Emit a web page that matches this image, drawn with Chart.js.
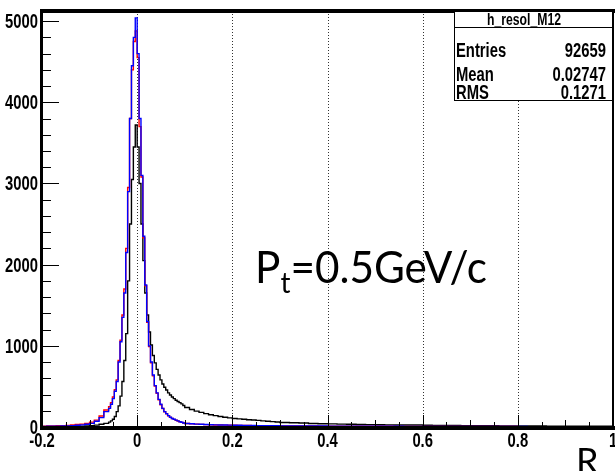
<!DOCTYPE html>
<html>
<head>
<meta charset="utf-8">
<script src="https://cdn.jsdelivr.net/npm/chart.js@4.4.1/dist/chart.umd.min.js"></script>
<style>
html, body { margin: 0; padding: 0; background: #fff; }
#wrap { width: 615px; height: 471px; }
</style>
</head>
<body>
<div id="wrap"><canvas id="myChart" width="615" height="471"></canvas></div>
<script>
// bin layout: [from, to, width]
const binRanges = [[-0.2, -0.06, 0.01], [-0.06, 0.1, 0.004], [0.1, 0.3, 0.01], [0.3, 1.0, 0.02]];

const xTicks = [-0.2, 0, 0.2, 0.4, 0.6, 0.8, 1];
const yTicks = [0, 1000, 2000, 3000, 4000, 5000];

// counts per bin
const redCounts = [
    10, 10, 12, 13, 15, 17, 20, 24, 30, 36, 45, 60, 85, 135,
    210, 250, 300, 370, 460, 580, 820, 1070, 1380, 1700, 2200, 2950, 3800, 4400, 4750, 4880,
    4550, 3700, 3080, 2330, 1740, 1290, 990, 790, 630, 505, 415, 335, 275, 228, 188, 162,
    138, 118, 104, 94, 84, 74, 64, 57,
    49, 43, 39, 35, 32, 29, 27, 25, 24, 23, 22, 21, 20, 19, 18, 17, 16, 15, 15, 14,
    14, 14, 13, 12, 12, 11, 11, 10, 10, 10, 9, 9, 9, 8, 8, 8, 8, 7, 7, 7,
    7, 6, 6, 6, 6, 6, 5, 5, 5, 5, 5, 5, 4, 4, 4
];
const blueCounts = [
    8, 8, 9, 10, 11, 12, 14, 17, 21, 26, 33, 45, 70, 115,
    190, 230, 280, 350, 440, 560, 800, 1050, 1350, 1650, 2150, 2900, 3800, 4450, 4800, 5040,
    4600, 3800, 3100, 2350, 1750, 1300, 1000, 800, 640, 510, 420, 340, 280, 230, 190, 165,
    140, 120, 105, 95, 85, 75, 65, 58,
    50, 44, 40, 36, 33, 30, 28, 26, 25, 24, 23, 22, 21, 20, 19, 18, 17, 16, 16, 15,
    15, 14, 13, 13, 12, 12, 11, 11, 10, 10, 10, 9, 9, 9, 8, 8, 8, 8, 7, 7,
    7, 7, 6, 6, 6, 6, 6, 5, 5, 5, 5, 5, 5, 4, 4
];
const blackCounts = [
    4, 4, 5, 5, 6, 6, 7, 8, 9, 11, 13, 17, 23, 33,
    45, 60, 75, 95, 130, 190, 260, 380, 560, 820, 1150, 1800, 2500, 3050, 3450, 3720,
    3450, 3000, 2500, 2050, 1650, 1380, 1170, 1010, 880, 790, 710, 640, 580, 530, 490, 455,
    420, 395, 370, 350, 330, 315, 300, 285,
    265, 240, 215, 195, 180, 165, 150, 140, 130, 120, 112, 105, 100, 95, 90, 86, 82, 76, 70, 66,
    62, 56, 52, 50, 44, 40, 38, 35, 33, 30, 29, 28, 26, 25, 24, 24, 22, 20, 19, 18,
    17, 16, 15, 15, 14, 13, 13, 12, 12, 11, 11, 10, 10, 9, 9
];

const statsTitle = "h_resol_M12";
const statsRows = [["Entries", "92659"], ["Mean", "0.02747"], ["RMS", "0.1271"]];

const narrow = "'Liberation Sans', Arial, sans-serif";
const squeeze = 0.74;

let binEdges = [];
binRanges.forEach((r) => {
    const n = Math.round((r[1] - r[0]) / r[2]);
    for (let i = 0; i < n; i++) {
        binEdges.push(Math.round((r[0] + i * r[2]) * 10000) / 10000);
    }
});
binEdges.push(1.0);

const toSteps = (counts) => {
    let pts = counts.map((c, i) => ({ x: binEdges[i], y: c }));
    pts.push({ x: binEdges[binEdges.length - 1], y: counts[counts.length - 1] });
    return pts;
};

const histDataset = (counts, color) => ({
    data: toSteps(counts),
    borderColor: color,
    borderWidth: 1.4,
    stepped: "after",
    pointRadius: 0,
    fill: false,
    tension: 0,
});

// condensed bold text, like ROOT's helvetica labels
const narrowText = (ctx, text, x, y, size, align) => {
    ctx.save();
    ctx.font = "bold " + size + "px " + narrow;
    const w = ctx.measureText(text).width * squeeze;
    let x0 = x;
    if (align === "right") x0 = x - w;
    if (align === "center") x0 = x - w / 2;
    ctx.translate(x0, y);
    ctx.scale(squeeze, 1);
    ctx.textAlign = "left";
    ctx.textBaseline = "alphabetic";
    ctx.fillText(text, 0, 0);
    ctx.restore();
};

const tickText = (v) => (Math.abs(v) < 1e-9 ? "0" : String(+v.toFixed(1)));

const rootFrame = {
    id: "rootFrame",
    beforeDatasetsDraw(chart) {
        const ctx = chart.ctx;
        const a = chart.chartArea;
        const xs = chart.scales.x;
        ctx.save();
        ctx.strokeStyle = "#333";
        ctx.lineWidth = 1;
        ctx.setLineDash([1, 2]);
        [0, 0.2, 0.4, 0.6, 0.8].forEach((v) => {
            const px = Math.round(xs.getPixelForValue(v)) + 0.5;
            ctx.beginPath();
            ctx.moveTo(px, a.top);
            ctx.lineTo(px, a.bottom);
            ctx.stroke();
        });
        ctx.restore();
    },
    afterDatasetsDraw(chart) {
        const ctx = chart.ctx;
        const a = chart.chartArea;
        const xs = chart.scales.x;
        const ys = chart.scales.y;
        ctx.save();
        ctx.strokeStyle = "#000";
        ctx.fillStyle = "#000";
        ctx.lineWidth = 1;

        // y ticks
        for (let v = 0; v <= 5000; v += 200) {
            const py = Math.round(ys.getPixelForValue(v)) + 0.5;
            const len = v % 1000 === 0 ? 17 : 9;
            ctx.beginPath();
            ctx.moveTo(a.left, py);
            ctx.lineTo(a.left + len, py);
            ctx.stroke();
        }
        // x ticks
        for (let k = 0; k <= 24; k++) {
            const v = -0.2 + k * 0.05;
            const px = Math.round(xs.getPixelForValue(v)) + 0.5;
            const len = k % 4 === 0 ? 12 : (k % 2 === 0 ? 7 : 5);
            ctx.beginPath();
            ctx.moveTo(px, a.bottom);
            ctx.lineTo(px, a.bottom - len);
            ctx.stroke();
        }

        // tick labels from the scales' own ticks
        ys.ticks.forEach((t) => {
            narrowText(ctx, String(t.value), a.left - 4, ys.getPixelForValue(t.value) + 7, 20, "right");
        });
        xs.ticks.forEach((t) => {
            narrowText(ctx, tickText(t.value), xs.getPixelForValue(t.value), 447, 20, "center");
        });

        // frame
        ctx.fillRect(a.left - 2, a.top - 2, a.right - a.left + 4, 4);
        ctx.fillRect(a.left - 2, a.top - 2, 3, a.bottom - a.top + 4);
        ctx.fillRect(a.left - 2, a.bottom - 1, a.right - a.left + 4, 4);
        ctx.fillRect(a.right - 1, a.top - 2, 2, a.bottom - a.top + 4);

        // stats box
        const bx = 454, by = 11, bw = a.right - 454, bh = 90;
        ctx.fillStyle = "#fff";
        ctx.fillRect(bx, by, bw, bh);
        ctx.strokeRect(bx + 0.5, by + 0.5, bw - 1, bh - 1);
        ctx.beginPath();
        ctx.moveTo(bx, 27.5);
        ctx.lineTo(bx + bw, 27.5);
        ctx.stroke();
        ctx.fillStyle = "#000";
        narrowText(ctx, statsTitle, 524, 25, 16.5, "center");
        const rowY = [57, 81, 99];
        statsRows.forEach((r, i) => {
            narrowText(ctx, r[0], bx + 2, rowY[i], 20, "left");
            narrowText(ctx, r[1], bx + bw - 7, rowY[i], 20, "right");
        });

        // Pt label
        const big = "Lato, 'Open Sans', sans-serif";
        ctx.textBaseline = "alphabetic";
        ctx.textAlign = "left";
        ctx.font = "44px " + big;
        const wP = ctx.measureText("P").width;
        const wRest = ctx.measureText("=0.5GeV/c").width;
        ctx.font = "29px " + big;
        const wt = ctx.measureText("t").width;
        const k = 232 / (wP + wt + wRest);
        ctx.save();
        ctx.translate(255, 283);
        ctx.scale(k, 1);
        ctx.font = "44px " + big;
        ctx.fillText("P", 0, 0);
        ctx.font = "29px " + big;
        ctx.fillText("t", wP, 10);
        ctx.font = "44px " + big;
        ctx.fillText("=0.5GeV/c", wP + wt, 0);
        ctx.restore();

        // axis title
        ctx.font = "36px " + big;
        ctx.fillText("R", 576, 474);
        ctx.restore();
    },
};

const config = {
    type: "line",
    data: {
        // first dataset is painted last, so blue ends up on top
        datasets: [
            histDataset(blueCounts, "#0000ff"),
            histDataset(redCounts, "#ff0000"),
            histDataset(blackCounts, "#000000"),
        ],
    },
    options: {
        responsive: false,
        animation: false,
        layout: { padding: { top: 11, right: 2, left: 0, bottom: 0 } },
        plugins: { legend: { display: false }, tooltip: { enabled: false } },
        scales: {
            x: {
                type: "linear",
                min: -0.2,
                max: 1,
                afterFit: (s) => { s.height = 44; s.paddingLeft = 0; s.paddingRight = 0; },
                afterBuildTicks: (s) => { s.ticks = xTicks.map((v) => ({ value: v })); },
                grid: { display: false, drawTicks: false },
                border: { display: false },
                ticks: { display: false, autoSkip: false, maxRotation: 0 },
            },
            y: {
                min: 0,
                max: 5125,
                afterFit: (s) => { s.width = 42; s.paddingTop = 0; s.paddingBottom = 0; },
                afterBuildTicks: (s) => { s.ticks = yTicks.map((v) => ({ value: v })); },
                grid: { display: false, drawTicks: false },
                border: { display: false },
                ticks: { display: false },
            },
        },
    },
    plugins: [rootFrame],
};

const myChart = new Chart(document.getElementById("myChart").getContext("2d"), config);
</script>
</body>
</html>
